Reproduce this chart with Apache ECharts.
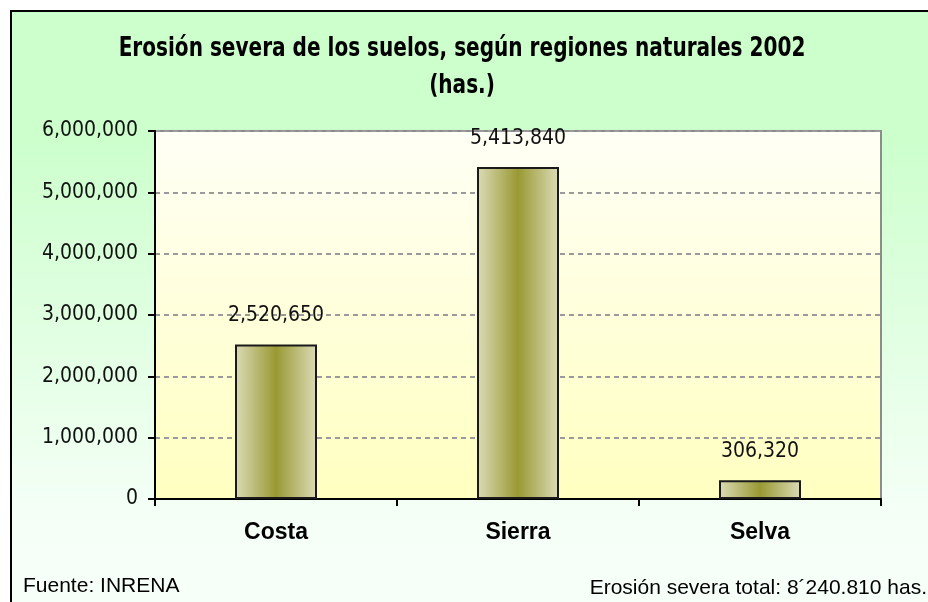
<!DOCTYPE html>
<html>
<head>
<meta charset="utf-8">
<title>Erosión severa de los suelos</title>
<script src="https://cdn.jsdelivr.net/npm/echarts@6/dist/echarts.min.js"></script>
<style>
  html, body { margin: 0; padding: 0; background: #ffffff; }
  #chart { width: 928px; height: 602px; }
</style>
</head>
<body>
<div id="chart"></div>
<script>
// datos
const categories = ['Costa', 'Sierra', 'Selva'];
const erosionValues = [2520650, 5413840, 306320];
const yMin = 0;
const yMax = 6000000;
const yStep = 1000000;
const titleLines = ['Erosión severa de los suelos, según regiones naturales 2002', '(has.)'];
const sourceNote = 'Fuente: INRENA';
const totalNote = 'Erosión severa total: 8´240.810 has.';

const condensed = '"DejaVu Sans Condensed", "DejaVu Sans", sans-serif';
const plain = '"Liberation Sans", Arial, sans-serif';
const fmt = (v) => Number(v).toLocaleString('en-US');

const chart = echarts.init(document.getElementById('chart'), null, { renderer: 'canvas' });

chart.setOption({
  animation: false,
  grid: {
    left: 155, top: 131, right: 47, bottom: 103,
    show: true,
    borderColor: '#8c8c8c',
    borderWidth: 2,
    backgroundColor: {
      type: 'linear', x: 0, y: 0, x2: 0, y2: 1,
      colorStops: [
        { offset: 0, color: '#fffff6' },
        { offset: 1, color: '#ffffc0' }
      ]
    }
  },
  graphic: [
    {
      type: 'rect', z: -10, silent: true,
      shape: { x: 11, y: 11, width: 940, height: 620 },
      style: {
        stroke: '#000', lineWidth: 2,
        fill: {
          type: 'linear', x: 0, y: 0, x2: 0, y2: 1,
          colorStops: [
            { offset: 0, color: '#ccffcc' },
            { offset: 0.2, color: '#ccffcc' },
            { offset: 0.8, color: '#f4fff6' },
            { offset: 1, color: '#f8fffa' }
          ]
        }
      }
    },
    {
      // título en letra estrecha: se comprime en horizontal
      type: 'text', x: 462, y: 30, scaleX: 0.826, z: 10,
      style: {
        text: titleLines.join('\n'),
        x: 0, y: 0,
        align: 'center',
        verticalAlign: 'top',
        font: 'bold 27px ' + condensed,
        lineHeight: 37,
        fill: '#000'
      }
    },
    {
      type: 'text', left: 23, top: 576, z: 10,
      style: { text: sourceNote, font: '21px ' + plain, fill: '#000' }
    },
    {
      type: 'text', right: 1, top: 578, z: 10,
      style: { text: totalNote, font: '21px ' + plain, fill: '#000' }
    }
  ],
  xAxis: {
    type: 'category',
    data: categories,
    boundaryGap: true,
    axisLine: { lineStyle: { color: '#000', width: 2 } },
    axisTick: { show: true, length: 7, lineStyle: { color: '#000', width: 2 } },
    axisLabel: {
      margin: 22,
      color: '#000',
      fontFamily: plain,
      fontWeight: 'bold',
      fontSize: 23
    },
    splitLine: { show: false }
  },
  yAxis: {
    type: 'value',
    min: yMin,
    max: yMax,
    interval: yStep,
    axisLine: { show: true, lineStyle: { color: '#000', width: 2 } },
    axisTick: { show: true, length: 7, lineStyle: { color: '#000', width: 2 } },
    axisLabel: {
      margin: 17,
      color: '#111',
      fontFamily: condensed,
      fontSize: 21,
      formatter: fmt
    },
    splitLine: { show: true, lineStyle: { color: '#9a9a9a', width: 2, type: [5, 4] } }
  },
  series: [{
    type: 'bar',
    data: erosionValues,
    barWidth: 82,
    itemStyle: {
      borderColor: '#1a1a1a',
      borderWidth: 2,
      color: {
        type: 'linear', x: 0, y: 0, x2: 1, y2: 0,
        colorStops: [
          { offset: 0, color: '#dcdcb8' },
          { offset: 0.5, color: '#999933' },
          { offset: 1, color: '#dcdcb8' }
        ]
      }
    },
    label: {
      show: true,
      position: 'top',
      distance: 18,
      color: '#111',
      fontFamily: condensed,
      fontSize: 21,
      formatter: (p) => fmt(p.value)
    }
  }]
});
</script>
</body>
</html>
